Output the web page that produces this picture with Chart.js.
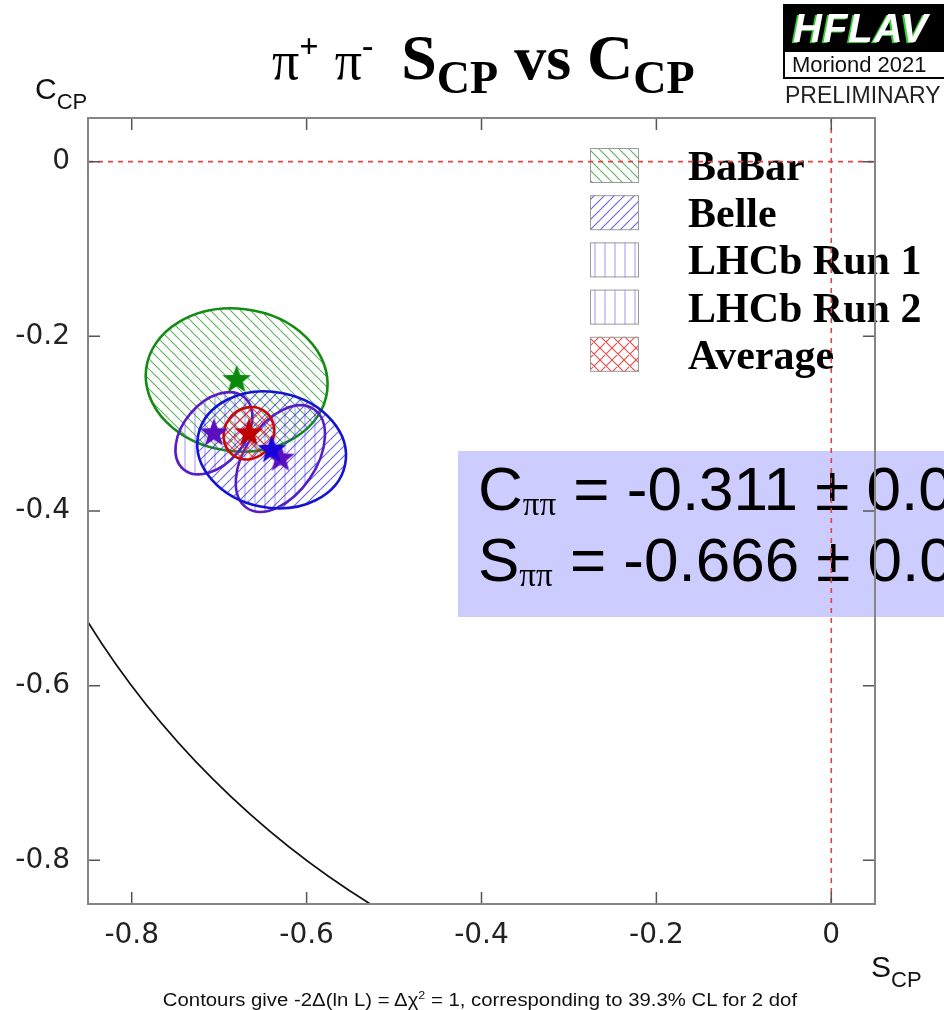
<!DOCTYPE html>
<html>
<head>
<meta charset="utf-8">
<title>π+ π- S_CP vs C_CP</title>
<script src="https://cdn.jsdelivr.net/npm/chart.js@4.4.1/dist/chart.umd.min.js"></script>
<style>
  body { margin: 0; background: #fff; }
  #wrap { position: relative; width: 944px; height: 1010px; overflow: hidden; }
  #plot { position: absolute; left: 0; top: 0; }
  .lbl { position: absolute; white-space: nowrap; line-height: 1; }
  #title { left: 272px; top: 21px; font: bold 64px "Liberation Serif", serif; color: #000; }
  #title .pi { font-weight: normal; font-size: 54px; }
  #title .up { position: relative; top: -22px; font-size: 34px; }
  #title .dn { position: relative; top: 14px; font-size: 46px; }
  #title .gap { margin-left: 12px; }
  .axt { font: 30px "Liberation Sans", sans-serif; color: #111; }
  .axt span { position: relative; top: 10px; font-size: 22px; }
  #ytitle { left: 35px; top: 72px; }
  #xtitle { left: 871px; top: 950px; }
  #footer { left: 9px; width: 944px; top: 989px; text-align: center; font: 18px "Liberation Sans", sans-serif; color: #111;
            transform: scaleX(1.13); transform-origin: 480px 0; }
  #logo { position: absolute; left: 783px; top: 4px; width: 175px; }
  #logo .hf { background: #000; height: 48px; color: #fff; font: italic bold 40px "Liberation Sans", sans-serif;
              line-height: 48px; padding-left: 10px; text-shadow: -2px 1px 0 #2fd22f; letter-spacing: 1px; }
  #logo .conf { background: #fff; border: 2px solid #000; border-top: none; height: 25px; line-height: 25px;
                font: 22px "Liberation Sans", sans-serif; padding-left: 7px; color: #111; }
  #logo .prel { font: 23px "Liberation Sans", sans-serif; color: #222; margin-top: 3px; padding-left: 2px; }
</style>
</head>
<body>
<div id="wrap">
  <canvas id="plot" width="944" height="1010"></canvas>
  <div class="lbl" id="title"><span class="pi">π</span><span class="up">+</span> <span class="pi">π</span><span class="up">-</span> <span class="gap">S</span><span class="dn">CP</span> vs C<span class="dn">CP</span></div>
  <div class="lbl axt" id="ytitle">C<span>CP</span></div>
  <div class="lbl axt" id="xtitle">S<span>CP</span></div>
  <div class="lbl" id="footer">Contours give -2Δ(ln L) = Δχ<sup style="font-size:11px">2</sup> = 1, corresponding to 39.3% CL for 2 dof</div>
  <div id="logo">
    <div class="hf">HFLAV</div>
    <div class="conf">Moriond 2021</div>
    <div class="prel">PRELIMINARY</div>
  </div>
</div>
<script>
// measurements of S_CP and C_CP for B0 -> pi+ pi-
const experiments = ["BaBar", "Belle", "LHCb Run 1", "LHCb Run 2", "Average"];
const sValues = [-0.680, -0.640, -0.630, -0.706, -0.666];
const cValues = [-0.250, -0.330, -0.340, -0.311, -0.311];
const sErrors = [0.104, 0.085, 0.051, 0.044, 0.029];
const cErrors = [0.082, 0.067, 0.061, 0.047, 0.030];
const correlations = [-0.06, -0.10, 0.45, 0.40, 0.10];

// axis range and ticks (same for S and C)
const axisMin = -0.85;
const axisMax = 0.05;
const tickStep = 0.2;
// physical boundary S^2 + C^2 = 1
const boundaryRadius = 1;

const AVG = experiments.length - 1;

const lineColors = ["#128c12", "#1414d2", "#5a1cc4", "#5a1cc4", "#c80a0a"];
const starColors = ["#0a8a0a", "#1a00d8", "#5a10c0", "#5a10c0", "#c00000"];
const hatchKinds = ["back", "fwd", "vert", "vert", "cross"];
const hatchColors = ["rgba(40,150,40,0.75)", "rgba(50,50,220,0.75)", "rgba(120,90,240,0.6)",
                     "rgba(120,90,240,0.6)", "rgba(220,40,40,0.85)"];

function makeHatch(kind, color) {
    const s = kind === "cross" ? 12 : 10;
    const c = document.createElement("canvas");
    c.width = s; c.height = s;
    const g = c.getContext("2d");
    g.strokeStyle = color;
    g.lineWidth = 1.1;
    g.beginPath();
    for (let k = -1; k <= 1; k++) {
        if (kind === "back" || kind === "cross") {
            g.moveTo(k * s, 0); g.lineTo(k * s + s, s);
        }
        if (kind === "fwd" || kind === "cross") {
            g.moveTo(k * s, s); g.lineTo(k * s + s, 0);
        }
    }
    if (kind === "vert") {
        g.moveTo(s / 2, 0); g.lineTo(s / 2, s);
    }
    g.stroke();
    return c;
}

function makeStar(color, r) {
    const c = document.createElement("canvas");
    c.width = 2 * r + 2; c.height = 2 * r + 2;
    const g = c.getContext("2d");
    g.translate(r + 1, r + 1);
    g.beginPath();
    for (let i = 0; i < 10; i++) {
        const rad = i % 2 === 0 ? r : r * 0.42;
        const a = -Math.PI / 2 + i * Math.PI / 5;
        g.lineTo(rad * Math.cos(a), rad * Math.sin(a));
    }
    g.closePath();
    g.fillStyle = color;
    g.fill();
    return c;
}

const stars = starColors.map(c => makeStar(c, 15));
const ctx = document.getElementById("plot").getContext("2d");
const hatches = hatchKinds.map((k, i) => ctx.createPattern(makeHatch(k, hatchColors[i]), "repeat"));

// result box and legend sit under the frame and the zero lines
const backdrop = {
    id: "backdrop",
    beforeDraw(chart) {
        const g = chart.ctx;
        g.save();
        g.fillStyle = "#ccccff";
        g.fillRect(458, 451, 500, 166);

        const rows = [["C", cValues[AVG], cErrors[AVG], 510], ["S", sValues[AVG], sErrors[AVG], 581]];
        g.fillStyle = "#000";
        g.textBaseline = "alphabetic";
        for (const [sym, v, e, y] of rows) {
            let x = 478;
            g.font = '62px "Liberation Sans"';
            g.fillText(sym, x, y);
            x += g.measureText(sym).width;
            g.font = '33px "Liberation Serif"';
            g.fillText("ππ", x, y + 5);
            x += g.measureText("ππ").width;
            g.font = '62px "Liberation Sans"';
            g.fillText(" = " + v.toFixed(3) + " ± " + e.toFixed(3), x, y);
        }

        experiments.forEach((name, i) => {
            const top = 148 + i * 47.2;
            g.fillStyle = hatches[i];
            g.fillRect(590, top, 49, 35);
            g.strokeStyle = "#9a9a9a";
            g.lineWidth = 1;
            g.strokeRect(590.5, top + 0.5, 48, 34);
            g.fillStyle = "#000";
            g.font = 'bold 42px "Liberation Serif"';
            g.fillText(name, 688, top + 32);
        });
        g.restore();
    }
};

// zero lines, physical boundary and the 1-sigma contours
const contours = {
    id: "contours",
    beforeDatasetsDraw(chart) {
        const g = chart.ctx;
        const xs = chart.scales.x, ys = chart.scales.y;
        const a = chart.chartArea;
        g.save();

        g.strokeStyle = "#dd4444";
        g.lineWidth = 1.6;
        g.setLineDash([5, 5]);
        const x0 = xs.getPixelForValue(0), y0 = ys.getPixelForValue(0);
        g.beginPath();
        g.moveTo(a.left, y0); g.lineTo(a.right, y0);
        g.moveTo(x0, a.top); g.lineTo(x0, a.bottom);
        g.stroke();
        g.setLineDash([]);

        g.save();
        g.beginPath();
        g.rect(a.left, a.top, a.right - a.left, a.bottom - a.top);
        g.clip();
        g.beginPath();
        g.ellipse(x0, y0,
                  Math.abs(xs.getPixelForValue(boundaryRadius) - x0),
                  Math.abs(ys.getPixelForValue(boundaryRadius) - y0), 0, 0, 2 * Math.PI);
        g.strokeStyle = "#111";
        g.lineWidth = 1.7;
        g.stroke();
        g.restore();

        const kx = Math.abs(xs.getPixelForValue(1) - xs.getPixelForValue(0));
        const ky = Math.abs(ys.getPixelForValue(1) - ys.getPixelForValue(0));
        const drawOrder = [0, 2, 3, 1, 4];
        for (const i of drawOrder) {
            const sx = sErrors[i] * kx, sy = cErrors[i] * ky;
            const r = -correlations[i]; // pixel y runs downwards
            const p = sx * sx, q = sy * sy, b = r * sx * sy;
            const mid = (p + q) / 2, d = Math.sqrt(((p - q) / 2) ** 2 + b * b);
            const ang = 0.5 * Math.atan2(2 * b, p - q);
            g.beginPath();
            g.ellipse(xs.getPixelForValue(sValues[i]), ys.getPixelForValue(cValues[i]),
                      Math.sqrt(mid + d), Math.sqrt(mid - d), ang, 0, 2 * Math.PI);
            g.fillStyle = hatches[i];
            g.fill();
            g.strokeStyle = lineColors[i];
            g.lineWidth = 2.6;
            g.stroke();
        }
        g.restore();
    }
};

// box frame with inward ticks on all four sides
const frame = {
    id: "frame",
    afterDatasetsDraw(chart) {
        const g = chart.ctx;
        const a = chart.chartArea;
        const xs = chart.scales.x, ys = chart.scales.y;
        g.save();
        g.strokeStyle = "#555";
        g.lineWidth = 1.5;
        g.beginPath();
        for (const t of xs.ticks) {
            const px = xs.getPixelForValue(t.value);
            g.moveTo(px, a.bottom); g.lineTo(px, a.bottom - 12);
            g.moveTo(px, a.top); g.lineTo(px, a.top + 12);
        }
        for (const t of ys.ticks) {
            const py = ys.getPixelForValue(t.value);
            g.moveTo(a.left, py); g.lineTo(a.left + 12, py);
            g.moveTo(a.right, py); g.lineTo(a.right - 12, py);
        }
        g.stroke();
        g.strokeStyle = "#858585";
        g.lineWidth = 2;
        g.strokeRect(a.left, a.top, a.right - a.left, a.bottom - a.top);
        g.restore();
    }
};

const tickLabel = v => {
    const r = Math.round(v * 10) / 10;
    return r === 0 ? "0" : r.toFixed(1);
};

const axisTicks = {
    stepSize: tickStep,
    includeBounds: false,
    color: "#222",
    font: { family: "DejaVu Sans", size: 28 },
    callback: tickLabel
};

new Chart(ctx, {
    type: "scatter",
    data: {
        datasets: experiments.map((name, i) => ({
            label: name,
            data: [{ x: sValues[i], y: cValues[i] }],
            pointStyle: stars[i],
            order: [4, 1, 3, 2, 0][i]
        }))
    },
    options: {
        responsive: false,
        animation: false,
        events: [],
        layout: { padding: { left: 0, top: 118, right: 69, bottom: 0 } },
        scales: {
            x: {
                type: "linear",
                min: axisMin,
                max: axisMax,
                grid: { display: false, drawTicks: false },
                border: { display: false },
                ticks: Object.assign({ padding: 15, maxRotation: 0 }, axisTicks),
                afterFit: s => { s.height = 106; }
            },
            y: {
                type: "linear",
                min: axisMin,
                max: axisMax,
                grid: { display: false, drawTicks: false },
                border: { display: false },
                ticks: Object.assign({ padding: 18 }, axisTicks),
                afterFit: s => { s.width = 88; }
            }
        },
        plugins: {
            legend: { display: false },
            tooltip: { enabled: false }
        }
    },
    plugins: [backdrop, contours, frame]
});
</script>
</body>
</html>
